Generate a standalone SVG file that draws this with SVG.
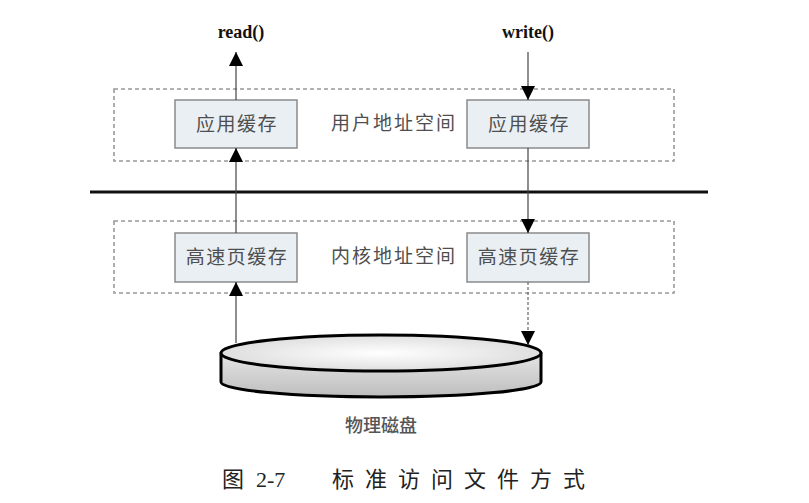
<svg xmlns="http://www.w3.org/2000/svg" width="809" height="503" viewBox="0 0 809 503">
<style>
.zone{fill:none;stroke:#999;stroke-width:1.6;stroke-dasharray:4 3}
.box{fill:#eaeff3;stroke:#8a8a8a;stroke-width:1.5}
.bt{font-family:"Noto Sans CJK SC",sans-serif;font-size:19px;fill:#4f4f4f;text-anchor:middle;letter-spacing:1.5px}
.lbl{font-family:"Noto Sans CJK SC",sans-serif;font-size:19px;fill:#4f4f4f;text-anchor:middle;letter-spacing:2px}
.fn{font-family:"Liberation Serif",serif;font-size:18px;font-weight:bold;fill:#111;text-anchor:middle}
.ln{stroke:#444;stroke-width:1.2;fill:none}
.dl{stroke:#666;stroke-width:1.2;fill:none;stroke-dasharray:3 2}
.cap{font-family:"Liberation Serif","Noto Sans CJK SC",serif;font-size:22px;fill:#222}
</style>
<defs>
<marker id="ah" markerUnits="userSpaceOnUse" markerWidth="14" markerHeight="14" viewBox="0 0 14 14" refX="14" refY="7" orient="auto">
<path d="M0,0 L14,7 L0,14 Z" fill="#000"/>
</marker>
<linearGradient id="side" x1="0" y1="0" x2="0" y2="1">
<stop offset="0" stop-color="#e6e6e6"/>
<stop offset="1" stop-color="#bdbdbd"/>
</linearGradient>
<radialGradient id="top" cx="0.5" cy="0.5" r="0.6">
<stop offset="0" stop-color="#ffffff"/>
<stop offset="1" stop-color="#d8d8d8"/>
</radialGradient>
</defs>
<rect width="809" height="503" fill="#fff"/>

<g id="user-space">
<rect class="zone" x="114" y="89" width="560" height="72"/>
<text class="lbl" x="394" y="130">用户地址空间</text>
</g>
<g id="kernel-space">
<rect class="zone" x="114" y="221" width="560" height="72"/>
<text class="lbl" x="394" y="263">内核地址空间</text>
</g>

<line x1="90" y1="192" x2="708" y2="192" stroke="#111" stroke-width="3.2"/>

<g id="app-buffer-left">
<rect class="box" x="175" y="100" width="122" height="48"/>
<text class="bt" x="237" y="131">应用缓存</text>
</g>
<g id="app-buffer-right">
<rect class="box" x="467" y="100" width="122" height="48"/>
<text class="bt" x="529" y="131">应用缓存</text>
</g>
<g id="page-cache-left">
<rect class="box" x="175" y="233" width="122" height="49"/>
<text class="bt" x="237" y="264">高速页缓存</text>
</g>
<g id="page-cache-right">
<rect class="box" x="467" y="233" width="122" height="49"/>
<text class="bt" x="529" y="264">高速页缓存</text>
</g>

<g id="disk">
<path d="M221,353 L221,382 A160,15 0 0 0 541,382 L541,353 Z" fill="url(#side)" stroke="#000" stroke-width="3" stroke-linejoin="round"/>
<ellipse cx="381" cy="353" rx="160" ry="18" fill="url(#top)" stroke="#000" stroke-width="3"/>
<text x="381" y="432" font-family="Noto Sans CJK SC,sans-serif" font-size="18" font-weight="500" fill="#555" text-anchor="middle">物理磁盘</text>
</g>

<g id="read-label"><text class="fn" x="241" y="38">read()</text></g>
<g id="write-label"><text class="fn" x="528" y="38">write()</text></g>

<g id="connectors">
<line class="ln" x1="236" y1="343" x2="236" y2="282" marker-end="url(#ah)"/>
<line class="ln" x1="236" y1="233" x2="236" y2="148" marker-end="url(#ah)"/>
<line class="ln" x1="236" y1="100" x2="236" y2="52" marker-end="url(#ah)"/>
<line class="ln" x1="528" y1="52" x2="528" y2="100" marker-end="url(#ah)"/>
<line class="ln" x1="528" y1="148" x2="528" y2="233" marker-end="url(#ah)"/>
<line class="dl" x1="528" y1="282" x2="528" y2="345" marker-end="url(#ah)"/>
</g>

<g id="caption">
<text class="cap" x="222" y="487">图</text>
<text class="cap" x="256" y="487">2-7</text>
<text class="cap" x="332" y="487" letter-spacing="11" font-family="Noto Sans CJK SC,sans-serif" font-size="21" font-weight="normal">标准访问文件方式</text>
</g>
</svg>
